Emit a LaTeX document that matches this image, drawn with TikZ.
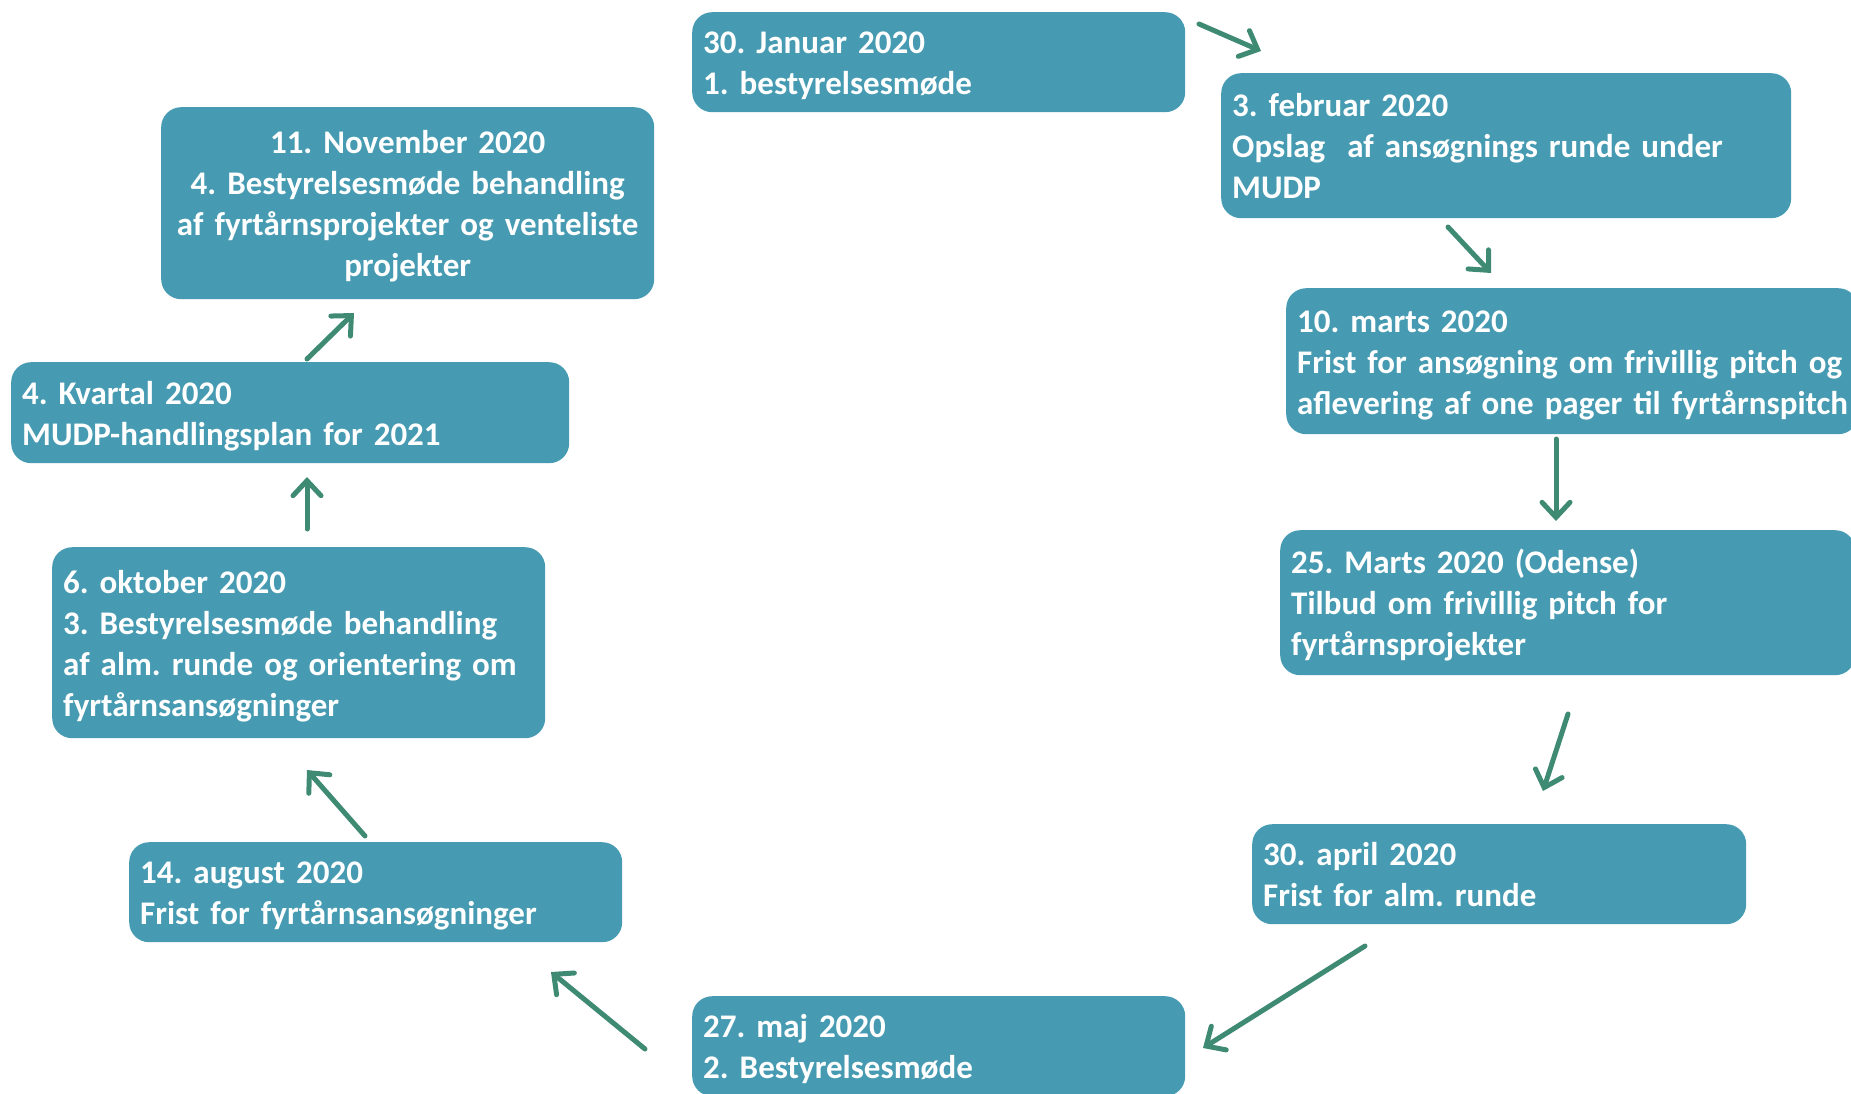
\documentclass[tikz,border=0pt]{standalone}
\usepackage{fontspec}
\setmainfont{Carlito}
\usetikzlibrary{arrows.meta}
\definecolor{boxc}{HTML}{469BB2}
\definecolor{arrc}{HTML}{3F8A73}
\frenchspacing
\newcommand{\lines}[1]{\raisebox{-4pt}[\height][\depth]{\begin{tabular}{@{}l@{}}#1\end{tabular}}}
\newcommand{\clines}[1]{\raisebox{-4pt}[\height][\depth]{\begin{tabular}{@{}c@{}}#1\end{tabular}}}
\begin{document}
\begin{tikzpicture}[x=1pt,y=-1pt,
  box/.style={fill=boxc, rounded corners=20pt, text=white,
    font=\fontsize{33}{41}\selectfont\bfseries\frenchspacing,
    inner xsep=11pt, inner ysep=0pt, align=left, anchor=north west},
  conn/.style={draw=arrc, line width=5pt, line cap=round,
    -{Straight Barb[length=15pt,width=28pt,line cap=round]}}]
\useasboundingbox (0,0) rectangle (1851,1094);

\node[box, minimum width=493pt, minimum height=100pt, text width=471pt] (jan) at (692,12)
  {\lines{30. Januar 2020\\1. bestyrelsesmøde}};
\node[box, minimum width=570pt, minimum height=145pt, text width=548pt] (feb) at (1221,73)
  {\lines{3. februar 2020\\Opslag\ \ af ansøgnings runde under\\MUDP}};
\node[box, minimum width=572pt, minimum height=146pt, text width=550pt] (mar10) at (1286,288)
  {\lines{10. marts 2020\\Frist for ansøgning om frivillig pitch og\\aflevering af one pager til fyrtårnspitch}};
\node[box, minimum width=575pt, minimum height=145pt, text width=553pt] (mar25) at (1280,530)
  {\lines{25. Marts 2020 (Odense)\\Tilbud om frivillig pitch for\\fyrtårnsprojekter}};
\node[box, minimum width=494pt, minimum height=100pt, text width=472pt] (apr) at (1252,824)
  {\lines{30. april 2020\\Frist for alm. runde}};
\node[box, minimum width=493pt, minimum height=100pt, text width=471pt] (maj) at (692,996)
  {\lines{27. maj 2020\\2. Bestyrelsesmøde}};
\node[box, minimum width=493pt, minimum height=100pt, text width=471pt] (aug) at (129,842)
  {\lines{14. august 2020\\Frist for fyrtårnsansøgninger}};
\node[box, minimum width=493pt, minimum height=191pt, text width=471pt] (okt) at (52,547)
  {\lines{6. oktober 2020\\3. Bestyrelsesmøde behandling\\af alm. runde og orientering om\\fyrtårnsansøgninger}};
\node[box, minimum width=558pt, minimum height=101pt, text width=536pt] (kv) at (11,362)
  {\lines{4. Kvartal 2020\\MUDP-handlingsplan for 2021}};
\node[box, align=center, minimum width=493pt, minimum height=192pt, text width=471pt] (nov) at (161,107)
  {\clines{11. November 2020\\4. Bestyrelsesmøde behandling\\af fyrtårnsprojekter og venteliste\\projekter}};

\coordinate (a1s) at (1199,24);  \coordinate (a1e) at (1261,51);
\coordinate (a2s) at (1448,227); \coordinate (a2e) at (1491,273);
\coordinate (a3s) at (1556,439); \coordinate (a3e) at (1556,521);
\coordinate (a4s) at (1568,714); \coordinate (a4e) at (1543,791);
\coordinate (a5s) at (1365,946); \coordinate (a5e) at (1203,1048);
\coordinate (a6s) at (645,1049); \coordinate (a6e) at (551,972);
\coordinate (a7s) at (365,836);  \coordinate (a7e) at (307,770);
\coordinate (a8s) at (307,529);  \coordinate (a8e) at (307,477);
\coordinate (a9s) at (307,359);  \coordinate (a9e) at (354,313);

\draw[conn] (a1s) -- (a1e);
\draw[conn] (a2s) -- (a2e);
\draw[conn] (a3s) -- (a3e);
\draw[conn] (a4s) -- (a4e);
\draw[conn] (a5s) -- (a5e);
\draw[conn] (a6s) -- (a6e);
\draw[conn] (a7s) -- (a7e);
\draw[conn] (a8s) -- (a8e);
\draw[conn] (a9s) -- (a9e);
\end{tikzpicture}
\end{document}
